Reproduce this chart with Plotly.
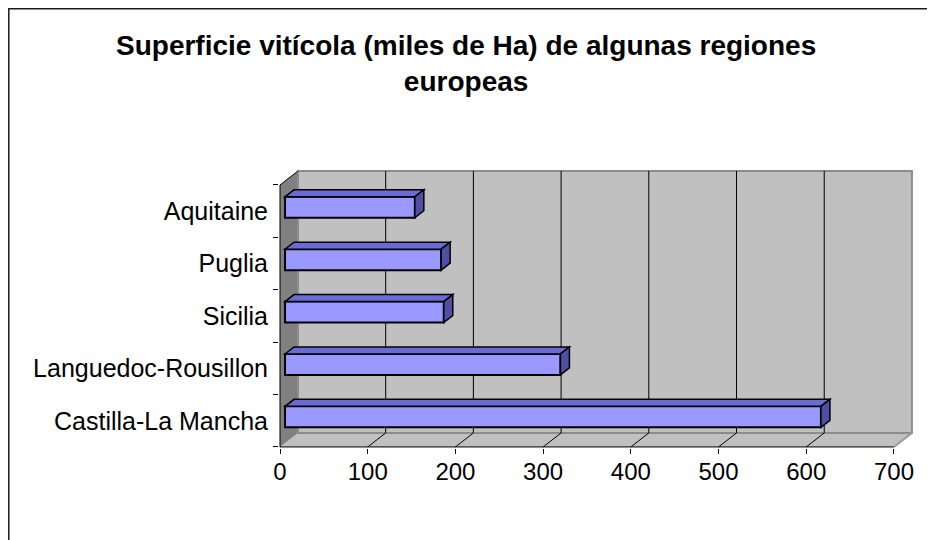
import plotly.graph_objects as go

# ---- data ----
categories = ["Castilla-La Mancha", "Languedoc-Rousillon", "Sicilia", "Puglia", "Aquitaine"]
values = [611, 314, 181, 178, 148]
x_ticks = [0, 100, 200, 300, 400, 500, 600, 700]
title_text = "<b>Superficie vitícola (miles de Ha) de algunas regiones<br>europeas</b>"

# ---- 3D (oblique) geometry, in data units ----
XMAX = 700          # value-axis maximum
NCAT = len(categories)
DX = 20.5           # horizontal depth offset of back wall (value units)
DY = 0.267          # vertical depth offset of back wall (category units)
DF, DB = 0.28, 0.78 # bar front / back depth fractions
HALF = 0.2          # half bar thickness (category units)

FONT = "Liberation Sans, Arial, sans-serif"

def P(pts):
    return "M " + " L ".join(f"{x},{y}" for x, y in pts) + " Z"

def L(pts):
    return "M " + " L ".join(f"{x},{y}" for x, y in pts)

shapes = []
# floor
shapes.append(dict(type="path", xref="x", yref="y", layer="below",
                   path=P([(0, 0), (XMAX, 0), (XMAX + DX, DY), (DX, DY)]),
                   fillcolor="#c0c0c0", line=dict(width=0)))
# left wall
shapes.append(dict(type="path", xref="x", yref="y", layer="below",
                   path=P([(0, 0), (DX, DY), (DX, NCAT + DY), (0, NCAT)]),
                   fillcolor="#808080", line=dict(width=0)))
# back wall
shapes.append(dict(type="path", xref="x", yref="y", layer="below",
                   path=P([(DX, DY), (XMAX + DX, DY), (XMAX + DX, NCAT + DY), (DX, NCAT + DY)]),
                   fillcolor="#c0c0c0", line=dict(color="#8c8c8c", width=2)))
# gridlines on back wall and floor
for v in x_ticks[1:-1]:
    shapes.append(dict(type="path", xref="x", yref="y", layer="below",
                       path=L([(v, 0), (v + DX, DY), (v + DX, NCAT + DY)]),
                       line=dict(color="black", width=1)))
# right floor edge
shapes.append(dict(type="path", xref="x", yref="y", layer="below",
                   path=L([(XMAX, 0), (XMAX + DX, DY)]),
                   line=dict(color="#9a9a9a", width=2)))
# front axis lines
shapes.append(dict(type="path", xref="x", yref="y", layer="below",
                   path=L([(DX, NCAT + DY), (0, NCAT), (0, 0), (XMAX, 0)]),
                   line=dict(color="black", width=1)))

# bar top and side faces
for i, v in enumerate(values):
    yc = i + 0.5 + DF * DY
    bx0 = DF * DX
    bx1 = v + DF * DX
    ddx = (DB - DF) * DX
    ddy = (DB - DF) * DY
    shapes.append(dict(type="path", xref="x", yref="y", layer="above",
                       path=P([(bx0, yc + HALF), (bx1, yc + HALF), (bx1 + ddx, yc + HALF + ddy), (bx0 + ddx, yc + HALF + ddy)]),
                       fillcolor="#6b6bd6", line=dict(color="black", width=1.5)))
    shapes.append(dict(type="path", xref="x", yref="y", layer="above",
                       path=P([(bx1, yc - HALF), (bx1 + ddx, yc - HALF + ddy), (bx1 + ddx, yc + HALF + ddy), (bx1, yc + HALF)]),
                       fillcolor="#4f4fa3", line=dict(color="black", width=1.5)))

# figure geometry (figure sits 8px into the page)
ML, MR, MT, MB = 271, 28, 161, 100
W, H = 935, 540
pw, ph = W - ML - MR, H - MT - MB
def px2paper_x(px): return (px - ML) / pw
def px2paper_y(py): return (H - MB - py) / ph

# chart frame
shapes.append(dict(type="rect", xref="paper", yref="paper", layer="above",
                   x0=px2paper_x(0.8), x1=px2paper_x(960), y0=px2paper_y(560), y1=px2paper_y(0.8),
                   line=dict(color="#1a1a1a", width=1.5), fillcolor="rgba(0,0,0,0)"))

fig = go.Figure()
fig.add_trace(go.Bar(
    orientation="h",
    x=values,
    y=[i + 0.5 + DF * DY for i in range(NCAT)],
    base=DF * DX,
    width=2 * HALF,
    marker=dict(color="#9999ff", line=dict(color="black", width=2)),
    hoverinfo="skip",
))

fig.update_layout(
    width=W, height=H,
    margin=dict(l=ML, r=MR, t=MT, b=MB, pad=0),
    paper_bgcolor="white", plot_bgcolor="rgba(0,0,0,0)",
    showlegend=False,
    shapes=shapes,
    annotations=[dict(text=title_text, xref="paper", yref="paper",
                      x=px2paper_x(458), y=px2paper_y(56), xanchor="center", yanchor="middle",
                      showarrow=False, align="center",
                      font=dict(family=FONT, size=28, color="black"))],
    xaxis=dict(range=[-1.14, 724], tickvals=x_ticks, ticks="outside", ticklen=5,
               tickcolor="black", showgrid=False, zeroline=False, showline=False,
               tickfont=dict(family=FONT, size=24, color="black"), ticklabelstandoff=-3,
               fixedrange=True),
    yaxis=dict(range=[-0.02, 5.305], tickvals=[i + 0.5 for i in range(NCAT)], ticktext=categories,
               ticks="outside", ticklen=5, tickcolor="rgba(0,0,0,0)",
               minor=dict(tickvals=list(range(NCAT + 1)), ticks="outside", ticklen=5,
                          tickcolor="black", tickwidth=1, showgrid=False),
               showgrid=False, zeroline=False, showline=False,
               tickfont=dict(family=FONT, size=25, color="black"), fixedrange=True),
)

fig.write_html("out.html")
